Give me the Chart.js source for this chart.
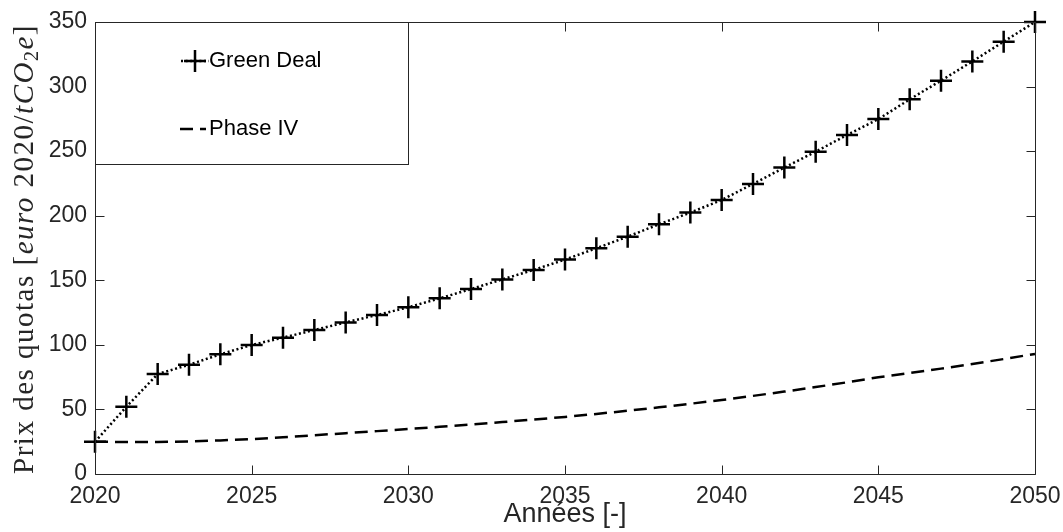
<!DOCTYPE html>
<html>
<head>
<meta charset="utf-8">
<script src="https://cdn.jsdelivr.net/npm/chart.js@4.4.1/dist/chart.umd.min.js"></script>
<style>
  html, body { margin: 0; padding: 0; background: #fff; }
  #wrap { width: 1063px; height: 532px; }
</style>
</head>
<body>
<div id="wrap"><canvas id="chart" width="1063" height="532"></canvas></div>
<script>
// données
const years = [2020, 2021, 2022, 2023, 2024, 2025, 2026, 2027, 2028, 2029, 2030,
               2031, 2032, 2033, 2034, 2035, 2036, 2037, 2038, 2039, 2040,
               2041, 2042, 2043, 2044, 2045, 2046, 2047, 2048, 2049, 2050];
const greenDeal = [25, 52, 77.4, 84.6, 92.7, 99.9, 105.6, 111.5, 117.4, 123.1, 129.1,
                   136, 143.2, 150.7, 158, 166, 174.8, 183.8, 193.4, 202.4, 212.2,
                   224.6, 237.3, 249.6, 262.5, 274.8, 290.1, 304.6, 319.5, 334.8, 350];
const phaseIV = [25, 24.8, 24.8, 25.2, 26, 27, 28.4, 30, 31.6, 33.2, 34.8,
                 36.5, 38.3, 40.2, 42.2, 44.2, 46.5, 49, 51.6, 54.4, 57.3,
                 60.5, 63.8, 67.3, 71, 74.9, 78.2, 81.6, 85.2, 89, 93];
const xTicks = [2020, 2025, 2030, 2035, 2040, 2045, 2050];
const yTicks = [0, 50, 100, 150, 200, 250, 300, 350];
const seriesNames = ["Green Deal", "Phase IV"];

const INK = "#262626";
const SANS = "'Liberation Sans', Arial, Helvetica, sans-serif";
const SERIF = "'Liberation Serif', 'Times New Roman', serif";

const dotted = [2, 2.6];
const dashed = [13, 7];

function pts(vals) {
    return years.map((y, i) => ({ x: y, y: vals[i] }));
}

// cadre, graduations intérieures, légende et titre de l'axe Y
const matlabAxes = {
    id: "matlabAxes",
    afterDatasetsDraw(chart) {
        const ctx = chart.ctx;
        const a = chart.chartArea;
        const xs = chart.scales.x, ys = chart.scales.y;
        const L = Math.round(a.left) + 0.5, R = Math.round(a.right) + 0.5;
        const T = Math.round(a.top) + 0.5, B = Math.round(a.bottom) + 0.5;
        const tick = 9;

        ctx.save();
        ctx.strokeStyle = INK;
        ctx.lineWidth = 1;
        ctx.beginPath();
        ctx.rect(L, T, R - L, B - T);
        xTicks.forEach(v => {
            const px = Math.round(xs.getPixelForValue(v)) + 0.5;
            ctx.moveTo(px, B); ctx.lineTo(px, B - tick);
            ctx.moveTo(px, T); ctx.lineTo(px, T + tick);
        });
        yTicks.forEach(v => {
            const py = Math.round(ys.getPixelForValue(v)) + 0.5;
            ctx.moveTo(L, py); ctx.lineTo(L + tick, py);
            ctx.moveTo(R, py); ctx.lineTo(R - tick, py);
        });
        ctx.stroke();

        // légende
        const bx = L, by = T, bw = 313, bh = 142;
        ctx.fillStyle = "#fff";
        ctx.fillRect(bx, by, bw, bh);
        ctx.strokeRect(bx, by, bw, bh);

        ctx.strokeStyle = "#000";
        ctx.lineWidth = 2.5;
        // Green Deal
        let ly = 61;
        ctx.setLineDash(dotted);
        ctx.beginPath(); ctx.moveTo(181, ly); ctx.lineTo(209, ly); ctx.stroke();
        ctx.setLineDash([]);
        ctx.beginPath();
        ctx.moveTo(184, ly); ctx.lineTo(206, ly);
        ctx.moveTo(195, ly - 11); ctx.lineTo(195, ly + 11);
        ctx.stroke();
        // Phase IV
        ly = 129;
        ctx.setLineDash(dashed);
        ctx.beginPath(); ctx.moveTo(180, ly); ctx.lineTo(206, ly); ctx.stroke();
        ctx.setLineDash([]);

        ctx.fillStyle = "#000";
        ctx.font = "22px " + SANS;
        ctx.textBaseline = "middle";
        ctx.textAlign = "left";
        ctx.fillText(seriesNames[0], 209, 61);
        ctx.fillText(seriesNames[1], 209, 129);

        // titre Y (style LaTeX)
        const size = 29;
        const runs = [
            { t: "Prix des quotas [", f: size + "px " + SERIF },
            { t: "euro", f: "italic " + size + "px " + SERIF },
            { t: " 2020/", f: size + "px " + SERIF },
            { t: "tCO", f: "italic " + size + "px " + SERIF },
            { t: "2", f: Math.round(size * 0.7) + "px " + SERIF, dy: size * 0.18 },
            { t: "e", f: "italic " + size + "px " + SERIF },
            { t: "]", f: size + "px " + SERIF }
        ];
        ctx.letterSpacing = "1.5px";
        let total = 0;
        runs.forEach(r => { ctx.font = r.f; r.w = ctx.measureText(r.t).width; total += r.w; });
        ctx.translate(33, 249);
        ctx.rotate(-Math.PI / 2);
        ctx.fillStyle = INK;
        ctx.textBaseline = "alphabetic";
        let cx = -total / 2;
        runs.forEach(r => {
            ctx.font = r.f;
            ctx.fillText(r.t, cx, r.dy || 0);
            cx += r.w;
        });
        ctx.restore();
    }
};

const chart = new Chart(document.getElementById("chart"), {
    type: "line",
    data: {
        datasets: [
            {
                label: seriesNames[0],
                data: pts(greenDeal),
                borderColor: "#000",
                borderWidth: 2.5,
                borderDash: dotted,
                pointStyle: "cross",
                pointRadius: 11,
                pointBorderWidth: 2.5,
                pointBorderColor: "#000",
                pointBackgroundColor: "#000",
                tension: 0,
                clip: false
            },
            {
                label: seriesNames[1],
                data: pts(phaseIV),
                borderColor: "#000",
                borderWidth: 2.5,
                borderDash: dashed,
                pointRadius: 0,
                tension: 0,
                clip: false
            }
        ]
    },
    options: {
        responsive: false,
        devicePixelRatio: 1,
        animation: false,
        layout: { padding: { top: 22, right: 28, left: 0, bottom: 0 } },
        plugins: { legend: { display: false }, tooltip: { enabled: false } },
        scales: {
            x: {
                type: "linear",
                min: 2020,
                max: 2050,
                afterBuildTicks: s => { s.ticks = xTicks.map(v => ({ value: v })); },
                afterFit: s => { s.height = 58; s.paddingLeft = 0; s.paddingRight = 0; },
                border: { display: false },
                grid: { display: false, drawTicks: false },
                ticks: {
                    color: INK,
                    padding: 9,
                    maxRotation: 0,
                    font: { family: SANS, size: 23 },
                    callback: v => String(v)
                },
                title: {
                    display: true,
                    text: "Années [-]",
                    color: INK,
                    font: { family: SANS, size: 27 },
                    padding: { top: 0, bottom: 1 }
                }
            },
            y: {
                min: 0,
                max: 350,
                afterBuildTicks: s => { s.ticks = yTicks.map(v => ({ value: v })); },
                afterFit: s => { s.width = 95; s.paddingTop = 0; s.paddingBottom = 0; },
                border: { display: false },
                grid: { display: false, drawTicks: false },
                ticks: {
                    color: INK,
                    padding: 8,
                    font: { family: SANS, size: 23 }
                }
            }
        }
    },
    plugins: [matlabAxes]
});
</script>
</body>
</html>
